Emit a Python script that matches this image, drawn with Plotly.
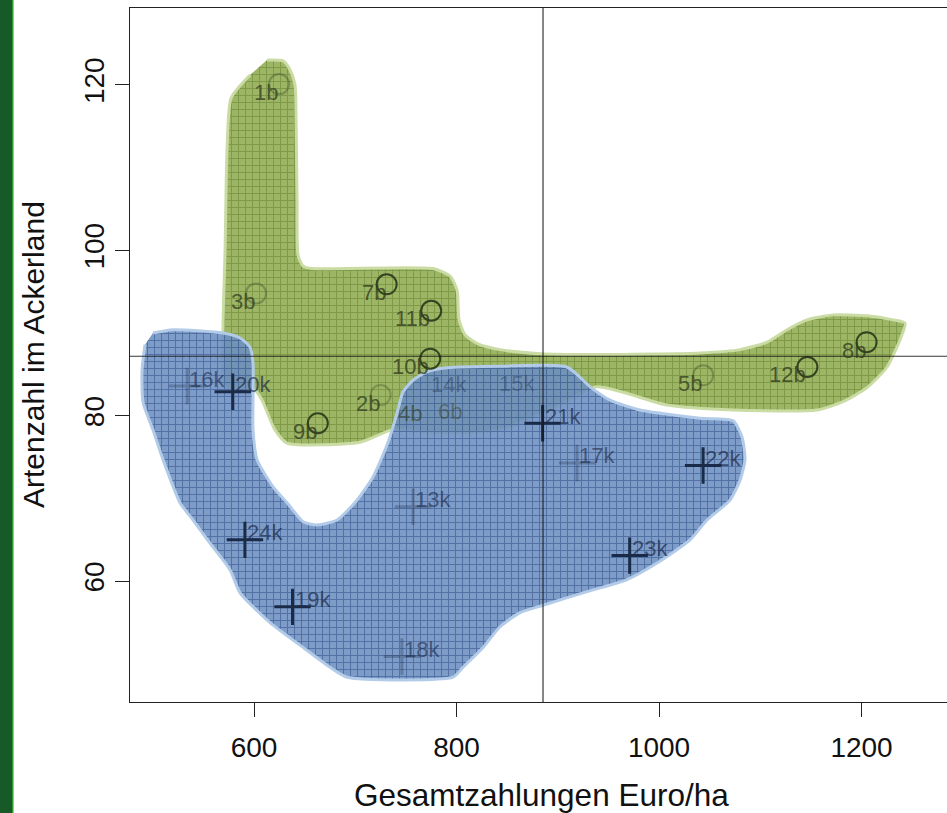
import plotly.graph_objects as go

# ---------------- data ----------------
b_labels = ["1b", "2b", "3b", "4b", "5b", "6b", "7b", "8b", "9b", "10b", "11b", "12b"]
b_x = [624.7, 725.0, 602.0, 767.0, 1043.6, 806.0, 731.0, 1205.0, 663.0, 774.0, 775.0, 1146.5]
b_y = [120.1, 82.5, 94.8, 81.2, 84.9, 81.5, 95.9, 88.9, 79.1, 86.9, 92.7, 85.9]

k_labels = ["13k", "14k", "15k", "16k", "17k", "18k", "19k", "20k", "21k", "22k", "23k", "24k"]
k_x = [757.0, 773.0, 840.0, 534.0, 919.0, 746.0, 638.0, 579.0, 885.0, 1043.5, 971.0, 591.0]
k_y = [69.0, 82.9, 83.0, 83.6, 74.3, 50.9, 56.9, 82.9, 79.1, 74.0, 63.1, 65.0]

# hull outlines (data coordinates)
green_x = [612.8, 628.6, 635.6, 640.5, 641.5, 642.5, 643.5, 648.4, 657.3, 776.8, 793.6, 800.5,
           802.5, 808.4, 821.2, 843.0, 882.5, 941.7, 1040.5, 1080.0, 1106.7, 1126.4, 1146.2,
           1171.9, 1205.4, 1231.1, 1243.0, 1238.0, 1225.2, 1205.4, 1181.7, 1156.0, 1073.1,
           1007.9, 938.8, 902.2, 843.0, 773.8, 736.3, 704.7, 632.6, 620.7, 607.9, 601.0,
           571.4, 569.4, 571.4, 573.3, 577.3, 596.0]
green_y = [123.0, 122.9, 121.8, 120.0, 115.8, 106.1, 99.4, 98.1, 97.8, 97.8, 96.9, 95.2,
           91.6, 89.8, 88.7, 88.0, 87.5, 87.4, 87.6, 88.0, 88.9, 90.4, 91.6,
           92.2, 92.1, 91.6, 91.2, 89.2, 85.9, 83.4, 81.7, 80.7, 80.7,
           81.3, 83.5, 81.3, 78.3, 78.0, 78.3, 76.8, 76.7, 78.3, 81.9, 83.1,
           83.4, 90.7, 100.1, 112.1, 118.4, 121.2]

blue_x = [500.2, 520.0, 569.4, 586.2, 596.0, 599.0, 599.0, 603.0, 618.8, 632.6, 648.4, 662.2,
          682.0, 701.7, 717.5, 725.4, 733.3, 741.2, 747.2, 757.0, 770.9, 790.6, 843.0, 909.1,
          931.9, 951.6, 981.2, 1040.5, 1073.1, 1082.0, 1084.9, 1080.0, 1070.1, 1047.4, 1030.6,
          998.0, 968.4, 924.9, 885.4, 862.7, 843.0, 826.2, 806.4, 796.5, 691.9, 675.1, 648.4,
          615.8, 586.2, 576.3, 556.5, 539.8, 526.9, 510.1, 500.2, 490.4, 489.4, 492.3]
blue_y = [90.0, 90.4, 90.0, 89.4, 88.3, 86.4, 78.3, 74.7, 71.4, 69.5, 67.2, 66.8,
          67.4, 69.8, 72.6, 74.7, 77.1, 80.3, 82.9, 84.3, 85.3, 85.8, 86.0, 85.9,
          83.5, 81.9, 80.7, 79.7, 79.4, 77.4, 74.7, 72.2, 69.8, 67.4, 65.0,
          62.2, 60.2, 58.6, 57.1, 56.2, 54.5, 52.0, 49.6, 48.4, 48.4, 49.6, 52.0,
          55.0, 58.6, 61.4, 64.6, 67.4, 69.5, 74.7, 78.3, 81.6, 85.5, 88.6]

ref_x = 885.4   # vertical reference line
ref_y = 87.2    # horizontal reference line

x_ticks = [600, 800, 1000, 1200]
y_ticks = [60, 80, 100, 120]
x_title = "Gesamtzahlungen Euro/ha"
y_title = "Artenzahl im Ackerland"

# emphasis (marker alpha) per point
b_alpha = [0.35, 0.3, 0.35, 0.0, 0.35, 0.0, 1, 1, 1, 1, 1, 1]
k_alpha = [0.3, 0.0, 0.0, 0.3, 0.3, 0.3, 1, 1, 1, 1, 1, 1]
b_lab_alpha = [0.75, 0.75, 0.75, 0.6, 0.75, 0.45, 0.8, 0.8, 0.8, 0.8, 0.8, 0.8]
k_lab_alpha = [0.6, 0.4, 0.35, 0.6, 0.6, 0.6, 0.7, 0.7, 0.7, 0.7, 0.7, 0.7]

# ---------------- figure ----------------
fig = go.Figure()

fig.add_trace(go.Scatter(
    x=green_x, y=green_y, mode="lines", fill="toself",
    line=dict(color="#cadca4", width=3, shape="spline", smoothing=0.6),
    fillcolor="#97b060",
    fillpattern=dict(shape="+", bgcolor="#9db666", fgcolor="#5f7d2c", size=7, solidity=0.28),
    hoverinfo="skip", showlegend=False))

fig.add_trace(go.Scatter(
    x=blue_x, y=blue_y, mode="lines", fill="toself",
    line=dict(color="#b2cbe8", width=3, shape="spline", smoothing=0.6),
    fillcolor="rgba(100,135,188,0.88)",
    fillpattern=dict(shape="+", bgcolor="rgba(108,142,192,0.88)", fgcolor="rgba(32,66,126,0.95)",
                     size=7, solidity=0.28),
    hoverinfo="skip", showlegend=False))

fig.add_trace(go.Scatter(
    x=b_x, y=b_y, mode="markers",
    marker=dict(symbol="circle-open", size=20, color="#34431f",
                line=dict(width=2, color="#34431f"), opacity=b_alpha),
    hoverinfo="skip", showlegend=False))

fig.add_trace(go.Scatter(
    x=k_x, y=k_y, mode="markers",
    marker=dict(symbol="cross-thin-open", size=26, color="#1a2b48",
                line=dict(width=3, color="#1a2b48"), opacity=k_alpha),
    hoverinfo="skip", showlegend=False))

annotations = []
for lab, x, y, a in zip(b_labels, b_x, b_y, b_lab_alpha):
    annotations.append(dict(x=x, y=y, xref="x", yref="y", text=lab, showarrow=False,
                            xanchor="right", yanchor="middle", xshift=1, yshift=-8,
                            font=dict(family="Liberation Sans", size=22,
                                      color=f"rgba(50,60,30,{a})")))
for lab, x, y, a in zip(k_labels, k_x, k_y, k_lab_alpha):
    annotations.append(dict(x=x, y=y, xref="x", yref="y", text=lab, showarrow=False,
                            xanchor="left", yanchor="middle", xshift=0, yshift=7,
                            font=dict(family="Liberation Sans", size=22,
                                      color=f"rgba(28,42,72,{a})")))

W, H = 947, 813
ml, mr, mt, mb = 130, 0, 8, 111
pw, ph = W - ml - mr, H - mt - mb

annotations.append(dict(x=(541 - ml) / pw, y=-(795 - (H - mb)) / ph, xref="paper", yref="paper",
                        text=x_title, showarrow=False, xanchor="center", yanchor="middle",
                        font=dict(family="Liberation Sans", size=31.5, color="#111")))
annotations.append(dict(x=(33 - ml) / pw, y=0.5, xref="paper", yref="paper",
                        text=y_title, showarrow=False, xanchor="center", yanchor="middle",
                        textangle=-90,
                        font=dict(family="Liberation Sans", size=30, color="#111")))

shapes = [
    # reference lines
    dict(type="line", xref="x", yref="paper", x0=ref_x, x1=ref_x, y0=0, y1=1,
         line=dict(color="rgba(20,20,20,0.85)", width=1.2), layer="above"),
    dict(type="line", xref="paper", yref="y", x0=0, x1=1, y0=ref_y, y1=ref_y,
         line=dict(color="rgba(20,20,20,0.85)", width=1.2), layer="above"),
    # left green strip
    dict(type="rect", xref="paper", yref="paper", x0=-ml / pw, x1=(12 - ml) / pw,
         y0=-mb / ph, y1=1 + mt / ph, fillcolor="#175a28", line=dict(width=0), layer="below"),
    dict(type="rect", xref="paper", yref="paper", x0=(12 - ml) / pw, x1=(13.5 - ml) / pw,
         y0=-mb / ph, y1=1 + mt / ph, fillcolor="#2a9a2a", line=dict(width=0), layer="below"),
]

fig.update_layout(
    width=W, height=H, autosize=False,
    margin=dict(l=ml, r=mr, t=mt, b=mb, pad=0),
    paper_bgcolor="white", plot_bgcolor="white",
    font=dict(family="Liberation Sans", color="#111"),
    annotations=annotations, shapes=shapes,
    xaxis=dict(range=[477.5, 1284.4], tickvals=x_ticks, ticks="outside", ticklen=14,
               tickwidth=1.2, tickcolor="#222", showline=True, linecolor="#222", linewidth=1.2,
               mirror=True, showgrid=False, zeroline=False, ticklabelstandoff=6,
               tickfont=dict(size=28, family="Liberation Sans", color="#111")),
    yaxis=dict(range=[45.4, 129.3], tickvals=y_ticks, ticks="outside", ticklen=14,
               tickwidth=1.2, tickcolor="#222", showline=True, linecolor="#222", linewidth=1.2,
               showgrid=False, zeroline=False, tickangle=-90,
               tickfont=dict(size=28, family="Liberation Sans", color="#111")),
)

fig.write_html("out.html")
